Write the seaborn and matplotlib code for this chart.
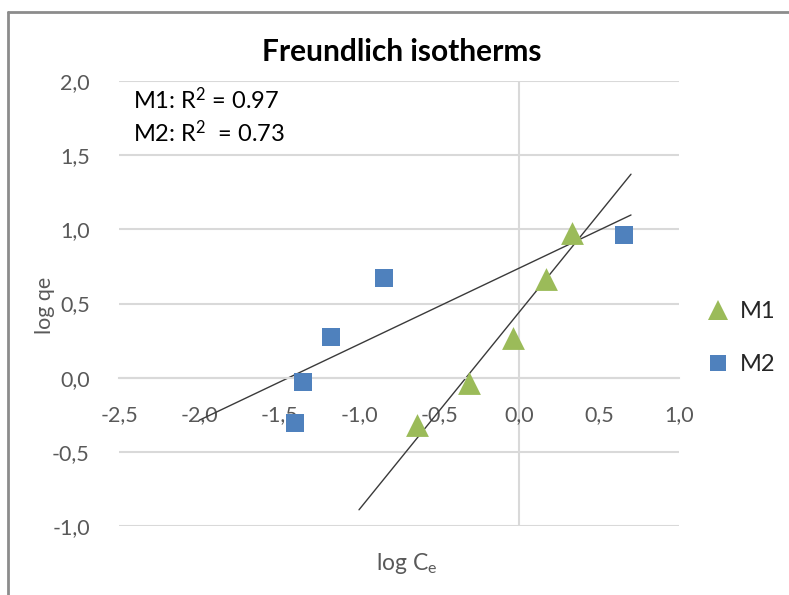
import numpy as np
import pandas as pd
import matplotlib
matplotlib.use("Agg")
import matplotlib.pyplot as plt
import seaborn as sns
from matplotlib.lines import Line2D

# ---- data ----
m1_x = [-0.635, -0.31, -0.039, 0.169, 0.329]
m1_y = [-0.318, -0.034, 0.267, 0.666, 0.973]
m2_x = [-1.402, -1.348, -1.177, -0.844, 0.654]
m2_y = [-0.303, -0.027, 0.276, 0.672, 0.960]
m1_trend_range = [-1.0, 0.70]
m2_trend_range = [-2.0, 0.70]
r2_labels = ["M1: R$^2$ = 0.97", "M2: R$^2$  = 0.73"]
x_ticks = [-2.5, -2.0, -1.5, -1.0, -0.5, 0.0, 0.5, 1.0]
y_ticks = [-1.0, -0.5, 0.0, 0.5, 1.0, 1.5, 2.0]

df = pd.DataFrame({
    "x": m1_x + m2_x,
    "y": m1_y + m2_y,
    "series": ["M1"] * len(m1_x) + ["M2"] * len(m2_x),
})

sns.set_style("white")
FONT = "Lato"
plt.rcParams["font.family"] = [FONT, "DejaVu Sans"]
plt.rcParams["mathtext.default"] = "regular"

GREEN = "#9BBB59"
BLUE = "#4F81BD"
GRID = "#D9D9D9"
TXT = "#595959"

fig = plt.figure(figsize=(7.89, 5.95), dpi=100)
ax = fig.add_axes([119 / 789, 1 - 526 / 595, 560 / 789, 445 / 595])

# gridlines
for yv in y_ticks:
    ax.axhline(yv, color=GRID, lw=1.5, zorder=0)
ax.axvline(0, color=GRID, lw=1.5, zorder=0)

# trend lines
for xs, ys, rng in [(m1_x, m1_y, m1_trend_range), (m2_x, m2_y, m2_trend_range)]:
    k, b = np.polyfit(xs, ys, 1)
    xx = np.array(rng)
    ax.plot(xx, k * xx + b, color="#3A3A3A", lw=1.0, zorder=2)

sns.scatterplot(data=df[df.series == "M1"], x="x", y="y", ax=ax, marker="^",
                color=GREEN, s=270, linewidth=0, zorder=3, legend=False)
sns.scatterplot(data=df[df.series == "M2"], x="x", y="y", ax=ax, marker="s",
                color=BLUE, s=150, linewidth=0, zorder=3, legend=False)

ax.set_xlim(-2.5, 1.0)
ax.set_ylim(-1.0, 2.0)
ax.set_xticks(x_ticks)
ax.set_yticks(y_ticks)
ax.set_xticklabels([f"{v:.1f}".replace(".", ",") for v in x_ticks])
ax.set_yticklabels([f"{v:.1f}".replace(".", ",") for v in y_ticks])
for s in ["top", "right", "left"]:
    ax.spines[s].set_visible(False)
ax.spines["bottom"].set_position(("data", 0))
ax.spines["bottom"].set_color(GRID)
ax.spines["bottom"].set_linewidth(1.5)
ax.tick_params(axis="x", length=0, pad=20, labelsize=15.5, labelcolor=TXT)
ax.tick_params(axis="y", length=0, pad=21, labelsize=15.5, labelcolor=TXT)
ax.set_xlabel("")
ax.set_ylabel("")

fig.text(402 / 789, 1 - 52 / 595, "Freundlich isotherms", ha="center", va="center",
         fontsize=21.5, fontweight="bold", color="#000000")
fig.text(45 / 789, 1 - 305 / 595, "log qe", ha="center", va="center", rotation=90,
         fontsize=15.5, color=TXT)
fig.text(407 / 789, 1 - 563 / 595, "log C$_e$", ha="center", va="center",
         fontsize=16.5, color=TXT)

ax.text(133 / 789, 1 - 100 / 595, r2_labels[0], transform=fig.transFigure,
        ha="left", va="center", fontsize=17, color="#000000")
ax.text(133 / 789, 1 - 133 / 595, r2_labels[1], transform=fig.transFigure,
        ha="left", va="center", fontsize=17, color="#000000")

handles = [
    Line2D([], [], marker="^", color=GREEN, linestyle="none", markersize=15, markeredgewidth=0),
    Line2D([], [], marker="s", color=BLUE, linestyle="none", markersize=11, markeredgewidth=0),
]
fig.legend(handles, ["M1", "M2"], loc="center left", bbox_to_anchor=(683 / 789, 1 - 338 / 595),
           frameon=False, fontsize=17, handletextpad=0.3, labelspacing=1.35,
           handlelength=1.2, labelcolor="#262626")

# chart border (left and top)
fig.add_artist(Line2D([7.5 / 789, 7.5 / 789], [0, 1 - 12 / 595], color="#8C8C8C", lw=2))
fig.add_artist(Line2D([7.5 / 789, 1], [1 - 12 / 595, 1 - 12 / 595], color="#8C8C8C", lw=2))

fig.savefig("out.png", dpi=100)
